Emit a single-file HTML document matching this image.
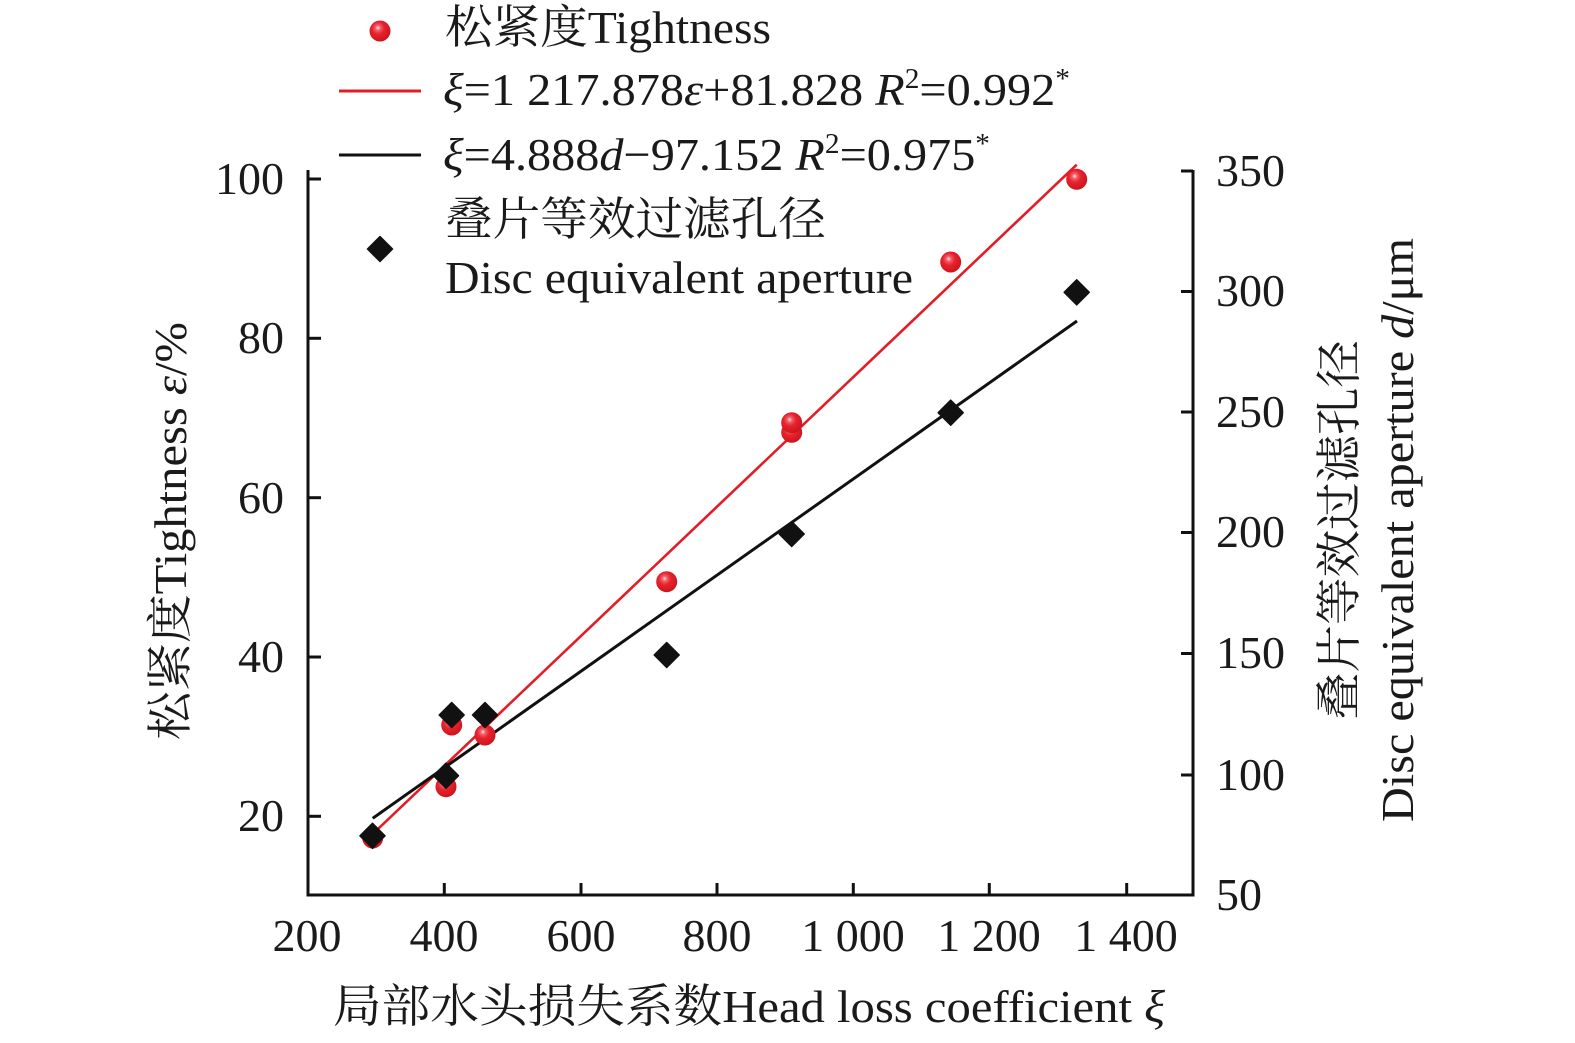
<!DOCTYPE html>
<html>
<head>
<meta charset="utf-8">
<style>
  html, body { margin:0; padding:0; background:#fff; }
  svg { display:block; }
  text { font-family: "Liberation Serif", "Noto Serif CJK SC", serif; fill:#1a1a1a; }
</style>
</head>
<body>
<svg width="1575" height="1043" viewBox="0 0 1575 1043" xmlns="http://www.w3.org/2000/svg">
  <defs>
    <radialGradient id="rb" cx="0.42" cy="0.38" r="0.65" fx="0.4" fy="0.35">
      <stop offset="0" stop-color="#ffe6ea"/>
      <stop offset="0.18" stop-color="#f2606a"/>
      <stop offset="0.45" stop-color="#e8222c"/>
      <stop offset="1" stop-color="#c8141d"/>
    </radialGradient>
    <g id="dia"><path d="M0,-12.5 L12.5,0 L0,12.5 L-12.5,0 Z" fill="#111" stroke="#111" stroke-width="1.5" stroke-linejoin="round"/></g>
    <g id="ball"><circle r="10.5" fill="url(#rb)"/></g>
  </defs>

  <!-- axes -->
  <g stroke="#111" stroke-width="3" fill="none">
    <line x1="308" y1="170" x2="308" y2="896.5"/>
    <line x1="306.5" y1="895" x2="1194.5" y2="895"/>
    <line x1="1193" y1="170" x2="1193" y2="896.5"/>
    <!-- left ticks -->
    <line x1="308" y1="179" x2="321" y2="179"/>
    <line x1="308" y1="338.3" x2="321" y2="338.3"/>
    <line x1="308" y1="497.7" x2="321" y2="497.7"/>
    <line x1="308" y1="657" x2="321" y2="657"/>
    <line x1="308" y1="816.3" x2="321" y2="816.3"/>
    <!-- bottom ticks -->
    <line x1="444.3" y1="895" x2="444.3" y2="883"/>
    <line x1="581" y1="895" x2="581" y2="883"/>
    <line x1="717" y1="895" x2="717" y2="883"/>
    <line x1="853.3" y1="895" x2="853.3" y2="883"/>
    <line x1="989.3" y1="895" x2="989.3" y2="883"/>
    <line x1="1126.7" y1="895" x2="1126.7" y2="883"/>
    <!-- right ticks -->
    <line x1="1193" y1="171" x2="1181" y2="171"/>
    <line x1="1193" y1="291.5" x2="1181" y2="291.5"/>
    <line x1="1193" y1="412" x2="1181" y2="412"/>
    <line x1="1193" y1="532.5" x2="1181" y2="532.5"/>
    <line x1="1193" y1="653.5" x2="1181" y2="653.5"/>
    <line x1="1193" y1="775" x2="1181" y2="775"/>
  </g>

  <!-- left tick labels -->
  <g font-size="46" text-anchor="end">
    <text x="284" y="194">100</text>
    <text x="284" y="353">80</text>
    <text x="284" y="513">60</text>
    <text x="284" y="672">40</text>
    <text x="284" y="831">20</text>
  </g>
  <!-- right tick labels -->
  <g font-size="46">
    <text x="1216" y="186">350</text>
    <text x="1216" y="306">300</text>
    <text x="1216" y="427">250</text>
    <text x="1216" y="547">200</text>
    <text x="1216" y="668">150</text>
    <text x="1216" y="790">100</text>
    <text x="1216" y="910">50</text>
  </g>
  <!-- bottom tick labels -->
  <g font-size="46" text-anchor="middle">
    <text x="307" y="951">200</text>
    <text x="444" y="951">400</text>
    <text x="581" y="951">600</text>
    <text x="717" y="951">800</text>
    <text x="853" y="951">1 000</text>
    <text x="989" y="951">1 200</text>
    <text x="1126" y="951">1 400</text>
  </g>

  <!-- fit lines -->
  <line x1="372.7" y1="834" x2="1076.7" y2="164.7" stroke="#e31d25" stroke-width="2.6"/>
  <line x1="372.7" y1="818.3" x2="1077" y2="321" stroke="#111" stroke-width="3"/>

  <!-- red points -->
  <use href="#ball" x="372.7" y="838"/>
  <use href="#ball" x="446" y="786.7"/>
  <use href="#ball" x="451.7" y="725"/>
  <use href="#ball" x="485" y="735"/>
  <use href="#ball" x="666.7" y="581.7"/>
  <use href="#ball" x="791.7" y="432.3"/>
  <use href="#ball" x="791.7" y="422.7"/>
  <use href="#ball" x="950.7" y="262"/>
  <use href="#ball" x="1076.7" y="179.3"/>

  <!-- black diamonds -->
  <use href="#dia" x="372.5" y="835.8"/>
  <use href="#dia" x="446" y="775.7"/>
  <use href="#dia" x="451.7" y="715"/>
  <use href="#dia" x="485" y="715"/>
  <use href="#dia" x="666.7" y="655"/>
  <use href="#dia" x="791.7" y="534"/>
  <use href="#dia" x="950.7" y="412.7"/>
  <use href="#dia" x="1076.7" y="292.3"/>

  <!-- legend -->
  <use href="#ball" x="380" y="31"/>
  <line x1="339" y1="91" x2="421" y2="91" stroke="#e31d25" stroke-width="3"/>
  <line x1="339" y1="155" x2="421" y2="155" stroke="#111" stroke-width="3"/>
  <use href="#dia" x="380" y="249"/>

  <g font-size="46">
    <text x="445" y="43" textLength="326" lengthAdjust="spacingAndGlyphs">松紧度Tightness</text>
    <text x="443" y="105" textLength="627" lengthAdjust="spacingAndGlyphs"><tspan font-style="italic">ξ</tspan>=1 217.878<tspan font-style="italic">ε</tspan>+81.828 <tspan font-style="italic">R</tspan><tspan font-size="28" dy="-17">2</tspan><tspan dy="17">=0.992</tspan><tspan font-size="28" dy="-17">*</tspan></text>
    <text x="443" y="170" textLength="547" lengthAdjust="spacingAndGlyphs"><tspan font-style="italic">ξ</tspan>=4.888<tspan font-style="italic">d</tspan>−97.152 <tspan font-style="italic">R</tspan><tspan font-size="28" dy="-17">2</tspan><tspan dy="17">=0.975</tspan><tspan font-size="28" dy="-17">*</tspan></text>
    <text x="445" y="235" textLength="381" lengthAdjust="spacingAndGlyphs">叠片等效过滤孔径</text>
    <text x="445" y="293" textLength="468" lengthAdjust="spacingAndGlyphs">Disc equivalent aperture</text>
  </g>

  <!-- axis titles -->
  <g font-size="46">
    <text x="749" y="1022" text-anchor="middle" textLength="832" lengthAdjust="spacingAndGlyphs">局部水头损失系数Head loss coefficient <tspan font-style="italic">ξ</tspan></text>
    <text transform="translate(186,531) rotate(-90)" text-anchor="middle" textLength="418" lengthAdjust="spacingAndGlyphs">松紧度Tightness <tspan font-style="italic">ε</tspan>/%</text>
    <text transform="translate(1355,530) rotate(-90)" text-anchor="middle" textLength="380" lengthAdjust="spacingAndGlyphs">叠片等效过滤孔径</text>
    <text transform="translate(1413,530) rotate(-90)" text-anchor="middle" textLength="584" lengthAdjust="spacingAndGlyphs">Disc equivalent aperture <tspan font-style="italic">d</tspan>/μm</text>
  </g>
</svg>
</body>
</html>
